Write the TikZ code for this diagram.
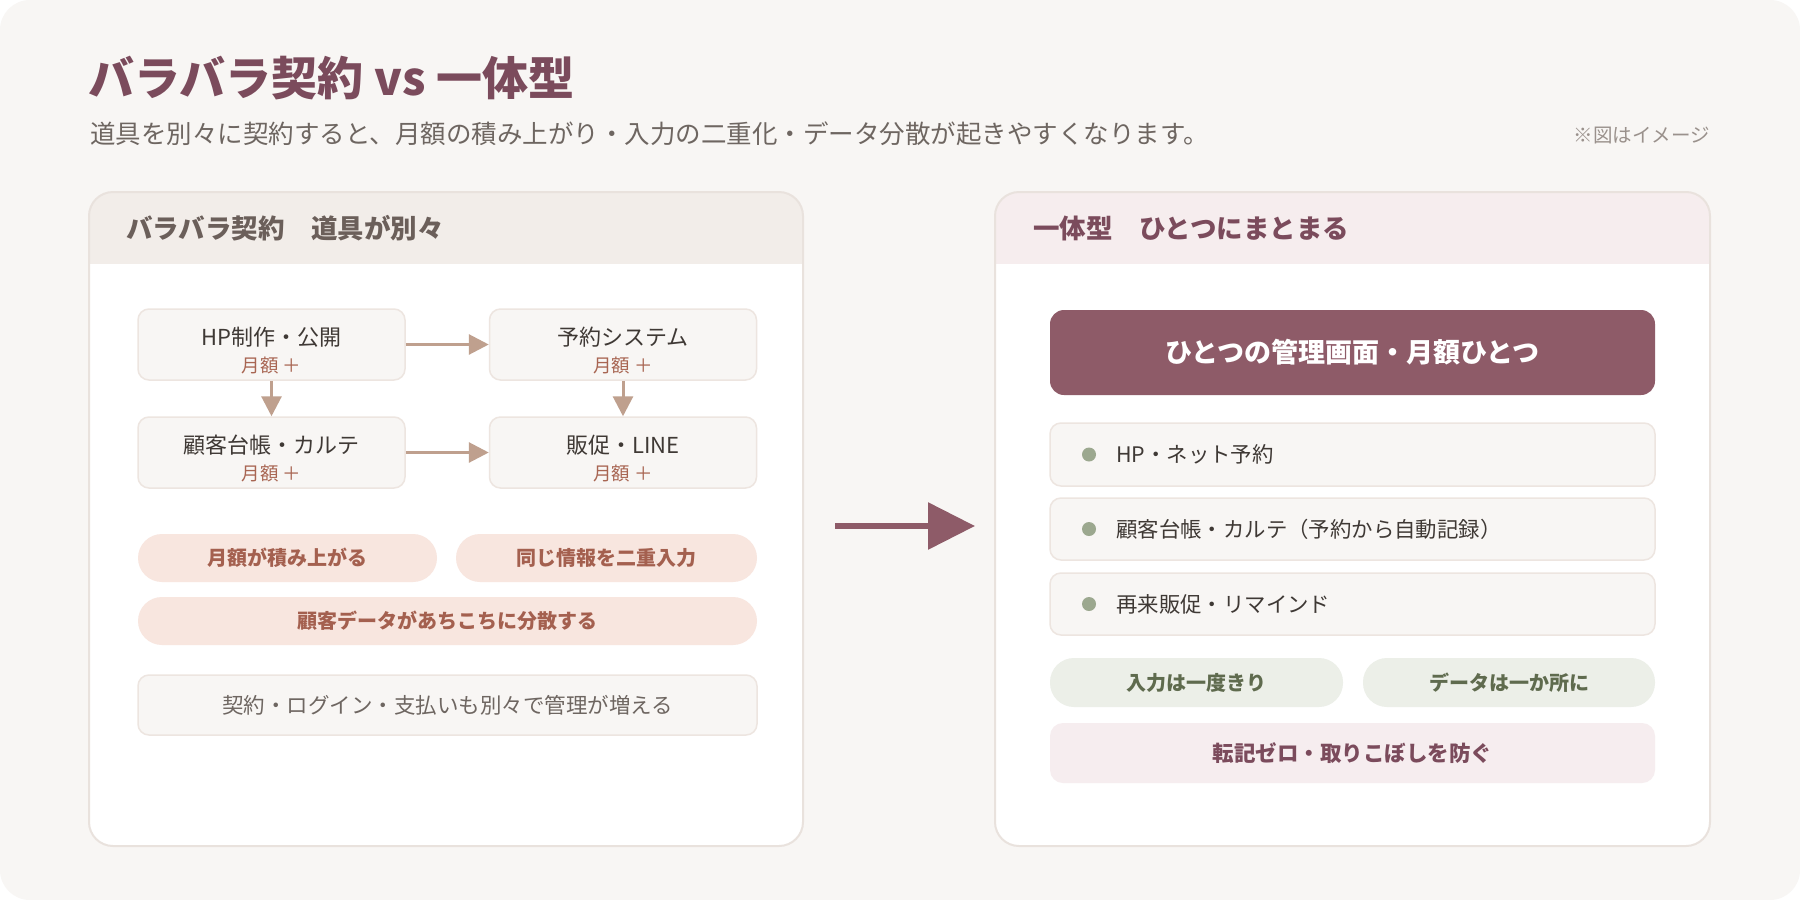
\documentclass[tikz,border=0pt]{standalone}
\usepackage{fontspec}
\setmainfont{Noto Sans CJK JP}
\usepackage{tikz}
\usetikzlibrary{arrows.meta,positioning}
\usepackage{xcolor}
\definecolor{PageBg}{HTML}{F8F6F4}
\definecolor{PanelLine}{HTML}{E9E2DD}
\definecolor{SepHead}{HTML}{F2EDE9}
\definecolor{SepInk}{HTML}{6B5F5A}
\definecolor{OneHead}{HTML}{F6EDEE}
\definecolor{Mauve}{HTML}{7B4B5C}
\definecolor{SubInk}{HTML}{6E6661}
\definecolor{NoteInk}{HTML}{9A918C}
\definecolor{BoxFill}{HTML}{F8F6F4}
\definecolor{BoxLine}{HTML}{EDE5E0}
\definecolor{Ink}{HTML}{3F3935}
\definecolor{FeeInk}{HTML}{A86552}
\definecolor{Tan}{HTML}{BFA08E}
\definecolor{WarnFill}{HTML}{F8E6DF}
\definecolor{WarnInk}{HTML}{A4604F}
\definecolor{Plum}{HTML}{8E5B68}
\definecolor{Sage}{HTML}{9CA88F}
\definecolor{GoodFill}{HTML}{ECEFE8}
\definecolor{GoodInk}{HTML}{5F6B4E}
\definecolor{RoseFill}{HTML}{F6EDEF}

\begin{document}
\begin{tikzpicture}[x=1pt,y=-1pt,
  toolbox/.style={draw=BoxLine,fill=BoxFill,line width=1.5pt,rounded corners=11pt,
                  minimum width=267pt,minimum height=71pt,align=center,text=Ink,
                  font=\fontsize{22}{27}\selectfont,inner sep=0pt},
  warnpill/.style={fill=WarnFill,rounded corners=24pt,minimum height=48pt,
                   text=WarnInk,font=\fontsize{20}{24}\selectfont\bfseries,inner sep=0pt},
  goodpill/.style={fill=GoodFill,rounded corners=24pt,minimum height=49pt,minimum width=293pt,
                   text=GoodInk,font=\fontsize{20}{24}\selectfont\bfseries,inner sep=0pt},
  listbox/.style={draw=BoxLine,fill=BoxFill,line width=1.5pt,rounded corners=11pt,
                  minimum width=605pt,minimum height=62pt,inner sep=0pt},
  listtxt/.style={anchor=west,text=Ink,font=\fontsize{21.4}{26}\selectfont,inner sep=0pt},
  bullet/.style={circle,fill=Sage,minimum size=14pt,inner sep=0pt},
  headtxt/.style={anchor=west,font=\fontsize{26.5}{30}\selectfont\bfseries,inner sep=0pt},
  flow/.style={draw=Tan,line width=3pt,-{Triangle[length=20pt,width=20pt]}},
]
\newcommand{\fee}{\\{\color{FeeInk}\fontsize{18.5}{22}\selectfont 月額 ＋}}
\newcommand{\lift}{\rule{0pt}{31pt}}
\useasboundingbox (0,0) rectangle (1800,900);
\fill[white] (0,0) rectangle (1800,900);
\fill[PageBg,rounded corners=30pt] (0,0) rectangle (1800,900);

% title
\node[anchor=west,inner sep=0pt,text=Mauve,font=\fontsize{46}{52}\selectfont\bfseries] (title) at (88,78) {バラバラ契約 vs 一体型};
\node[anchor=west,inner sep=0pt,text=SubInk,font=\fontsize{25.5}{30}\selectfont] (sub) at (90,134)
  {道具を別々に契約すると、月額の積み上がり・入力の二重化・データ分散が起きやすくなります。};
\node[anchor=east,inner sep=0pt,text=NoteInk,font=\fontsize{19.5}{23}\selectfont] (note) at (1710,136) {※図はイメージ};

% left panel
\fill[white,rounded corners=24pt] (89,192) rectangle (803,846);
\begin{scope}
  \clip[rounded corners=24pt] (89,192) rectangle (803,846);
  \fill[SepHead] (89,192) rectangle (803,264);
\end{scope}
\draw[PanelLine,line width=2pt,rounded corners=24pt] (89,192) rectangle (803,846);
\node[headtxt,text=SepInk] (lhead) at (126,228) {バラバラ契約　道具が別々};

\node[toolbox] (hp) at (271.5,344.5) {\lift HP制作・公開\fee};
\node[toolbox] (yoyaku) at (623,344.5) {\lift 予約システム\fee};
\node[toolbox] (karte) at (271.5,452.5) {\lift 顧客台帳・カルテ\fee};
\node[toolbox] (line) at (623,452.5) {\lift 販促・LINE\fee};
\draw[flow] (hp) -- (yoyaku);
\draw[flow] (hp) -- (karte);
\draw[flow] (yoyaku) -- (line);
\draw[flow] (karte) -- (line);

\node[warnpill,minimum width=299pt] (w1) at (287.5,558) {月額が積み上がる};
\node[warnpill,minimum width=301pt] (w2) at (606.5,558) {同じ情報を二重入力};
\node[warnpill,minimum width=619pt] (w3) at (447.5,621) {顧客データがあちこちに分散する};
\node[toolbox,minimum width=619pt,minimum height=60pt,text=SubInk,
      font=\fontsize{21.5}{26}\selectfont] (login) at (447.5,705) {契約・ログイン・支払いも別々で管理が増える};

% arrow between panels
\coordinate (arrS) at (835,526);
\coordinate (arrE) at (975,526);
\draw[Plum,line width=6pt,-{Triangle[length=47pt,width=46pt]}] (arrS) -- (arrE);

% right panel
\fill[white,rounded corners=24pt] (995,192) rectangle (1710,846);
\begin{scope}
  \clip[rounded corners=24pt] (995,192) rectangle (1710,846);
  \fill[OneHead] (995,192) rectangle (1710,264);
\end{scope}
\draw[PanelLine,line width=2pt,rounded corners=24pt] (995,192) rectangle (1710,846);
\node[headtxt,text=Mauve] (rhead) at (1033,228) {一体型　ひとつにまとまる};

\node[fill=Plum,rounded corners=14pt,minimum width=605pt,minimum height=85pt,inner sep=0pt,
      text=white,font=\fontsize{27}{31}\selectfont\bfseries] (hub) at (1352.5,352.5) {ひとつの管理画面・月額ひとつ};

\node[listbox,minimum height=63pt] (l1) at (1352.5,454.5) {};
\node[bullet] (b1) at (1089,454.5) {};
\node[listtxt] (t1) at (1116,454.5) {HP・ネット予約};
\node[listbox] (l2) at (1352.5,529) {};
\node[bullet] (b2) at (1089,529) {};
\node[listtxt] (t2) at (1116,529) {顧客台帳・カルテ（予約から自動記録）};
\node[listbox] (l3) at (1352.5,604) {};
\node[bullet] (b3) at (1089,604) {};
\node[listtxt] (t3) at (1116,604) {再来販促・リマインド};

\node[goodpill] (g1) at (1196.5,682.5) {入力は一度きり};
\node[goodpill,minimum width=292pt] (g2) at (1509,682.5) {データは一か所に};
\node[fill=RoseFill,rounded corners=13pt,minimum width=605pt,minimum height=60pt,inner sep=0pt,
      text=Mauve,font=\fontsize{21.5}{26}\selectfont\bfseries] (zero) at (1352.5,753) {転記ゼロ・取りこぼしを防ぐ};
\end{tikzpicture}
\end{document}
